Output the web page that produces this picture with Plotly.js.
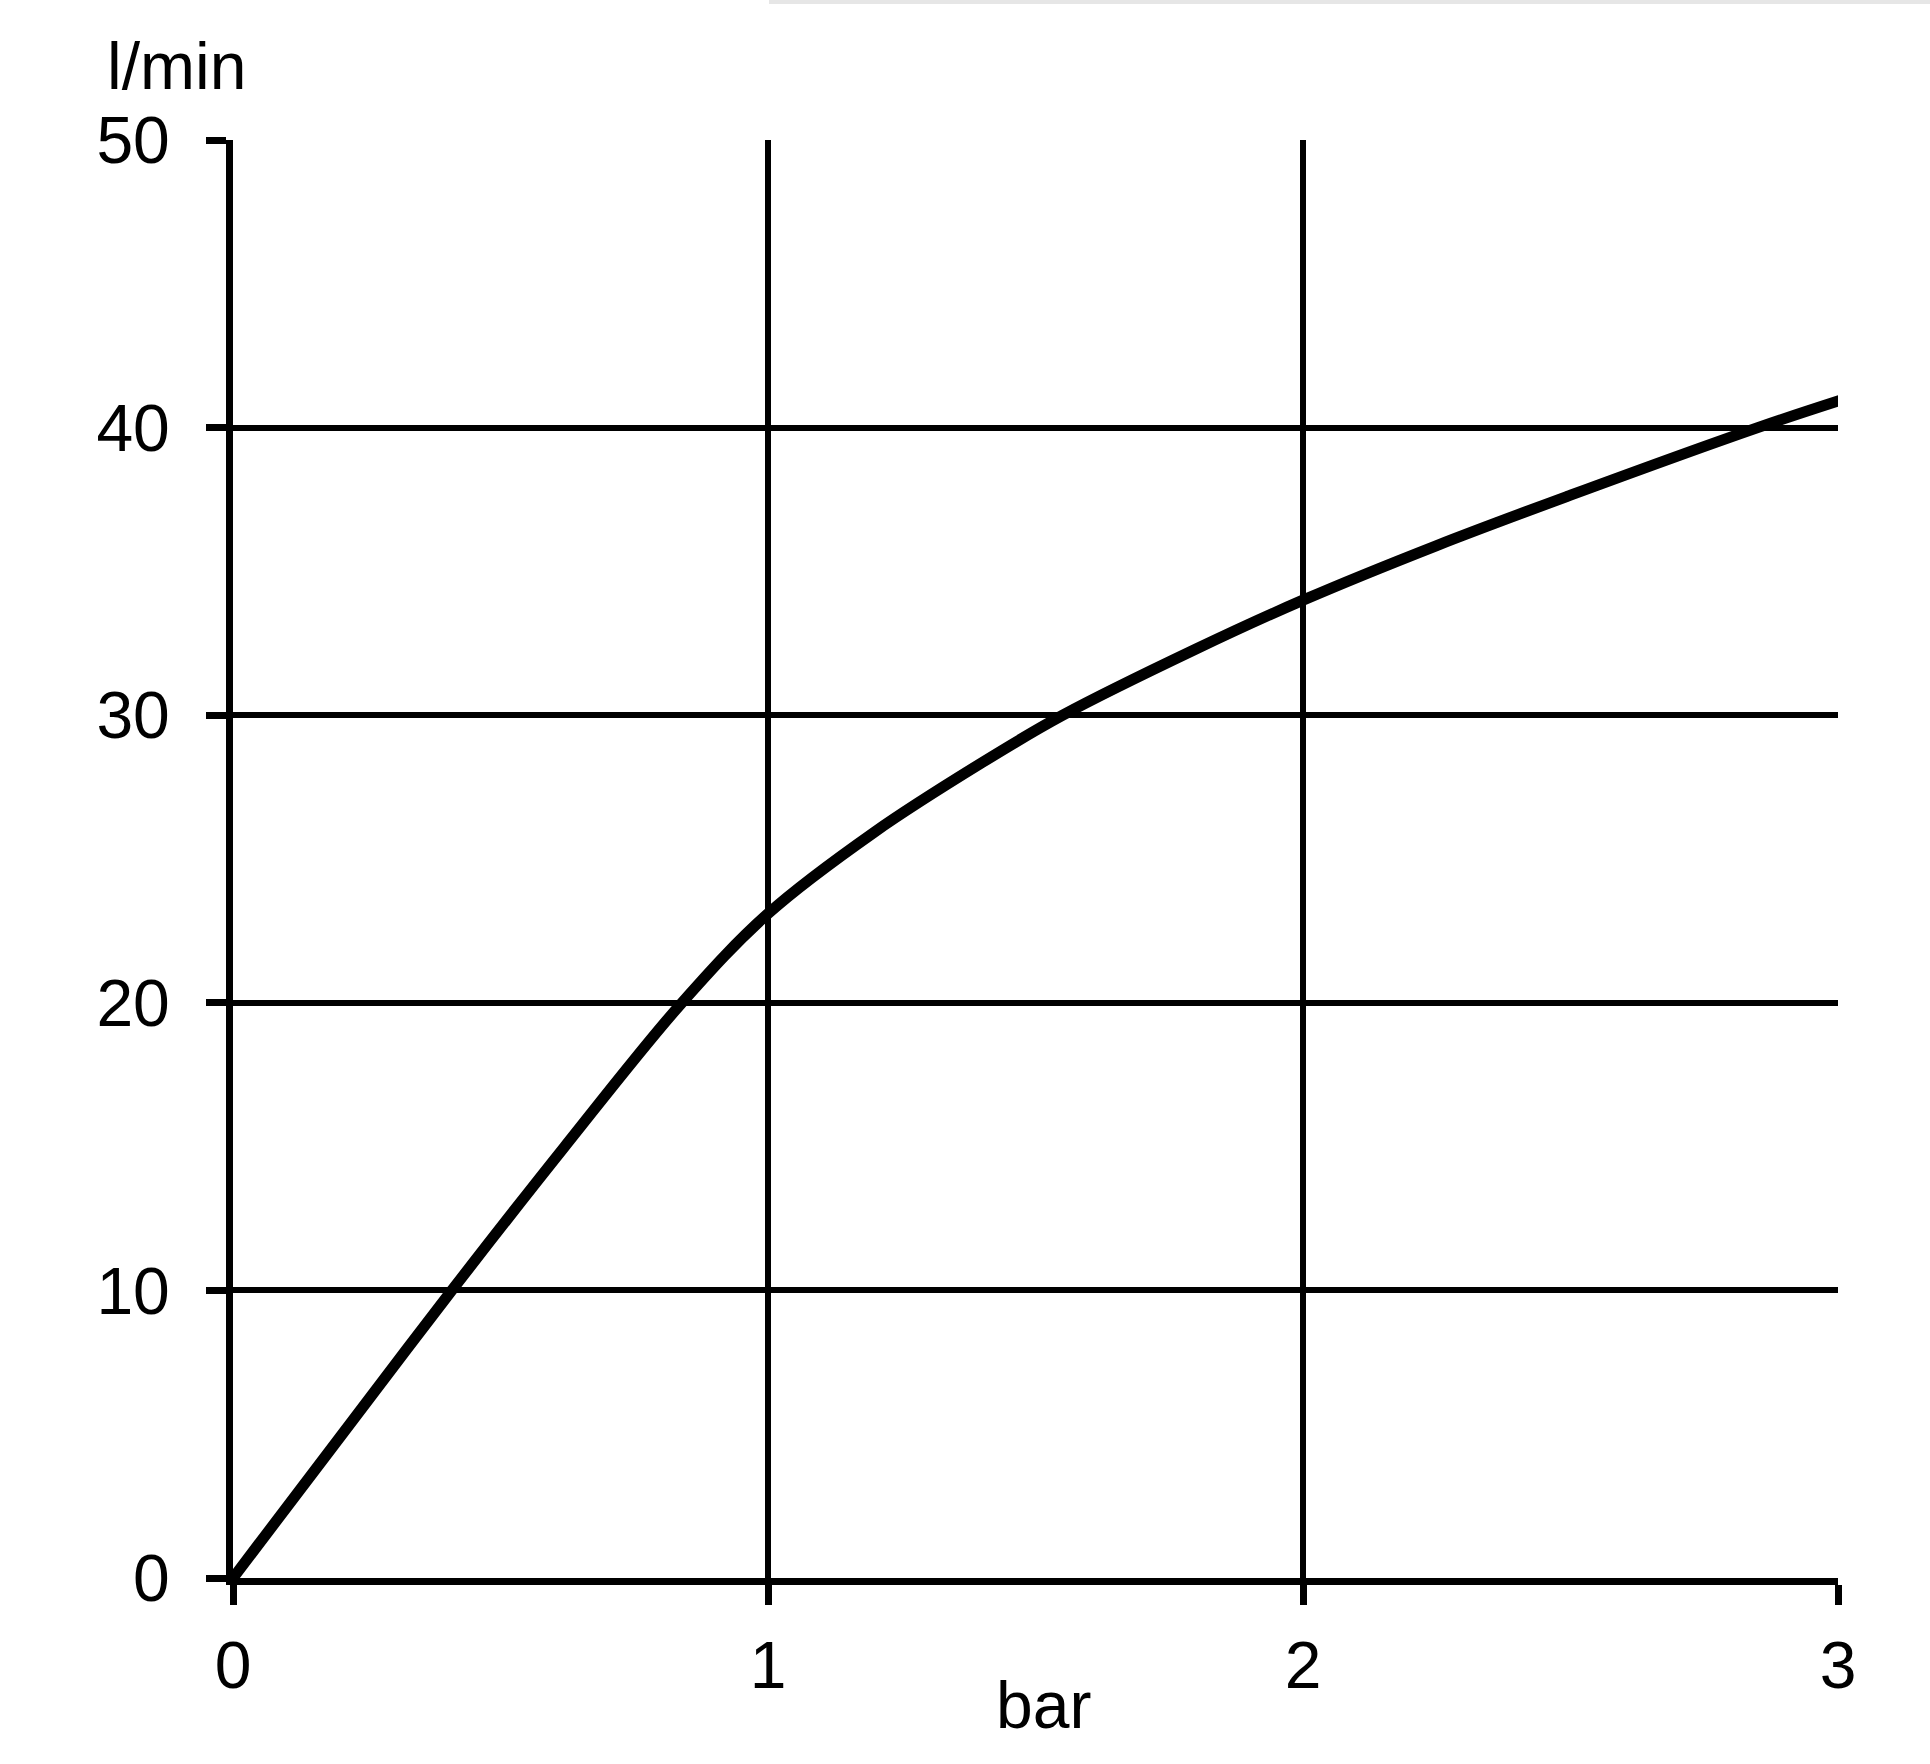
<!DOCTYPE html>
<html>
<head>
<meta charset="utf-8">
<script src="https://cdn.plot.ly/plotly-3.0.1.min.js"></script>
<style>
  html, body { margin: 0; padding: 0; background: #ffffff; }
  #chart { width: 1930px; height: 1764px; }
  #topband { position: absolute; left: 769px; top: 0; width: 1161px; height: 4px; background: #e6e6e6; }
</style>
</head>
<body>
<div id="chart"></div>
<div id="topband"></div>
<script>
// Pressure (bar) vs flow (l/min)
const pressureBar = [0, 0.2, 0.409, 0.62, 0.839, 1.0, 1.2, 1.4, 1.551, 1.8, 2.0, 2.25, 2.5, 2.85, 3.004];
const flowLmin    = [0, 4.9, 10.0, 15.0, 20.0, 23.1, 25.95, 28.35, 30.0, 32.3, 34.0, 35.9, 37.65, 40.0, 40.95];

const xTickVals = [0, 1, 2, 3];
const xTickText = ['0', '1', '2', '3'];
const yTickVals = [0, 10, 20, 30, 40, 50];
const yTickText = ['0', '10', '20', '30', '40', '50'];

const xTitle = 'bar';
const yTitle = 'l/min';

const FONT = 'Liberation Sans, Arial, sans-serif';

const trace = {
  x: pressureBar,
  y: flowLmin,
  type: 'scatter',
  mode: 'lines',
  line: { color: '#000000', width: 11, shape: 'spline', smoothing: 1 },
  hoverinfo: 'skip',
  showlegend: false,
  cliponaxis: false
};

const layout = {
  width: 1930,
  height: 1764,
  paper_bgcolor: '#ffffff',
  plot_bgcolor: '#ffffff',
  margin: { l: 233, r: 92, t: 140, b: 186 },
  font: { family: FONT, size: 66, color: '#000000' },
  showlegend: false,
  xaxis: {
    range: [0, 3],
    tickmode: 'array',
    tickvals: xTickVals,
    ticktext: xTickText,
    showgrid: true,
    gridcolor: '#000000',
    gridwidth: 6,
    zeroline: false,
    showline: true,
    linecolor: '#000000',
    linewidth: 7,
    ticks: 'outside',
    ticklen: 20,
    tickwidth: 7,
    tickcolor: '#000000',
    ticklabelstandoff: 4,
    tickfont: { family: FONT, size: 66, color: '#000000' },
    fixedrange: true
  },
  yaxis: {
    range: [0, 50],
    tickmode: 'array',
    tickvals: yTickVals,
    ticktext: yTickText,
    showgrid: true,
    gridcolor: '#000000',
    gridwidth: 6,
    zeroline: false,
    showline: true,
    linecolor: '#000000',
    linewidth: 7,
    ticks: 'outside',
    ticklen: 20,
    tickwidth: 7,
    tickcolor: '#000000',
    ticklabelstandoff: 23,
    tickfont: { family: FONT, size: 66, color: '#000000' },
    fixedrange: true
  },
  annotations: [
    {
      text: yTitle,
      xref: 'paper', yref: 'paper',
      x: -0.035, y: 1.024,
      xanchor: 'center', yanchor: 'bottom',
      showarrow: false,
      font: { family: FONT, size: 66, color: '#000000' }
    },
    {
      text: xTitle,
      xref: 'paper', yref: 'paper',
      x: 0.5047, y: -0.0883,
      xanchor: 'center', yanchor: 'middle',
      showarrow: false,
      font: { family: FONT, size: 66, color: '#000000' }
    }
  ]
};

Plotly.newPlot('chart', [trace], layout, { staticPlot: true, displayModeBar: false });
</script>
</body>
</html>
